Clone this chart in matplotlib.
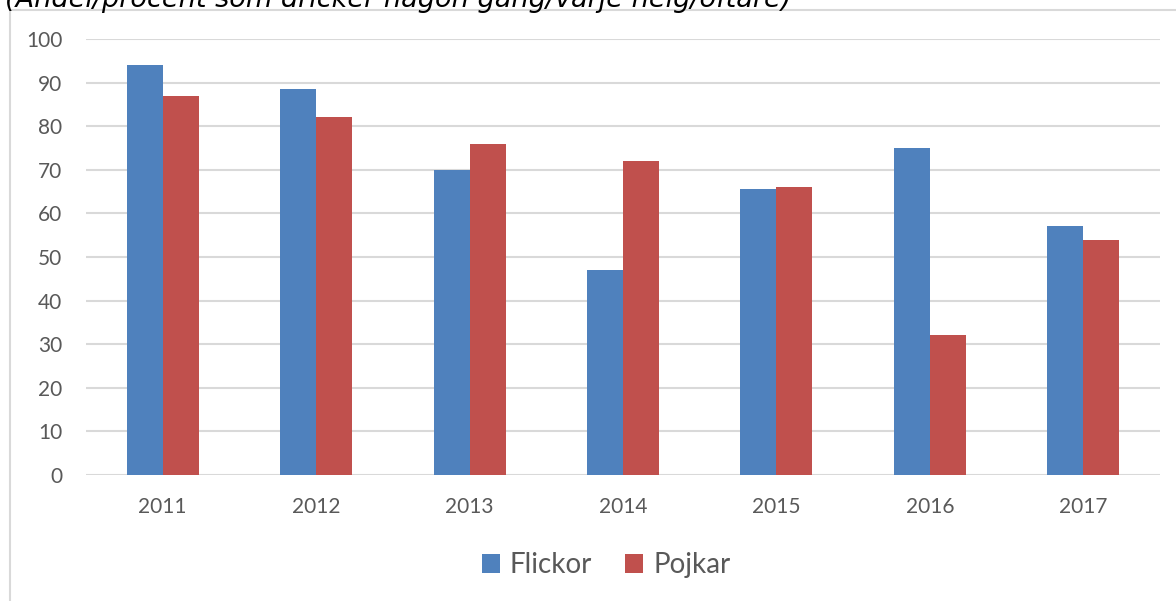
import numpy as np
import matplotlib.pyplot as plt
from matplotlib.patches import Rectangle

years = ["2011", "2012", "2013", "2014", "2015", "2016", "2017"]
flickor = [94, 88.5, 70, 47, 65.5, 75, 57]
pojkar = [87, 82, 76, 72, 66, 32, 54]
yticks = [0, 10, 20, 30, 40, 50, 60, 70, 80, 90, 100]

W, H = 1176, 601
fig = plt.figure(figsize=(W / 100, H / 100), dpi=100)

# outer chart frame (cut off at right/bottom like in the source)
fig.patches.append(Rectangle((10 / W, -0.1), 1.2, 1 - 10 / H + 0.1,
                             transform=fig.transFigure, fill=False,
                             edgecolor="#d9d9d9", linewidth=1.5))

# title, top half sits above the canvas as in the source
fig.text(5 / W, 1 - 7 / H, "(Andel/procent som dricker någon gång/varje helg/oftare)",
         fontsize=19.5, style="italic", color="#000000", ha="left", va="baseline",
         family="DejaVu Sans")

ax = fig.add_axes([86 / W, 1 - 475 / H, (1160 - 86) / W, (475 - 39) / H])
x = np.arange(len(years))
w = 0.235
ax.bar(x - w / 2, flickor, w, color="#4f81bd", label="Flickor", zorder=3)
ax.bar(x + w / 2, pojkar, w, color="#c0504d", label="Pojkar", zorder=3)

ax.set_xlim(-0.5, len(years) - 0.5)
ax.set_ylim(0, 100)
ax.set_yticks(yticks)
ax.set_xticks(x)
ax.set_xticklabels(years)
ax.grid(axis="y", color="#d9d9d9", linewidth=1.5, zorder=0)
for s in ax.spines.values():
    s.set_visible(False)
ax.tick_params(length=0, labelcolor="#595959", labelsize=15)
ax.tick_params(axis="y", pad=17)
ax.tick_params(axis="x", pad=16)
for lab in ax.get_xticklabels() + ax.get_yticklabels():
    lab.set_family("Lato")

fig.legend(loc="center", bbox_to_anchor=(606 / W, 1 - 565 / H), ncol=2,
           frameon=False, prop={"family": "Lato", "size": 20},
           labelcolor="#595959", handlelength=0.65, handleheight=0.65,
           handletextpad=0.35, columnspacing=1.2)

fig.savefig("out.png", dpi=100, facecolor="white")
